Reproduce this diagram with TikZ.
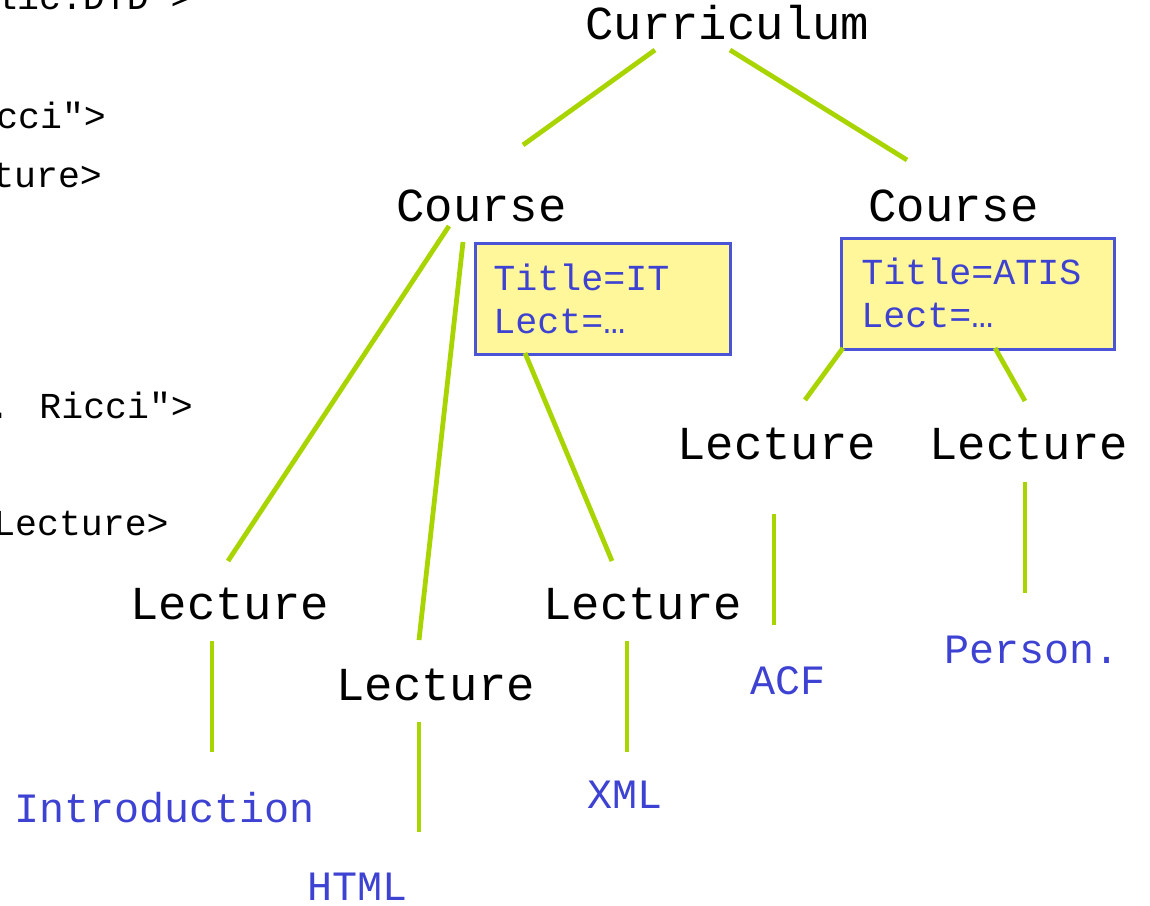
\documentclass[tikz,border=0pt]{standalone}
\usepackage{fontspec}
\setmainfont{Liberation Mono}[Ligatures=TeXOff]
\begin{document}
\begin{tikzpicture}[x=0.75pt,y=-0.75pt,
  tag/.style={inner sep=0pt,anchor=base west,font=\fontsize{35.5}{40}\selectfont,text=black},
  leaf/.style={inner sep=0pt,anchor=base west,font=\fontsize{31.3}{36}\selectfont,text=leafblue},
  src/.style={inner sep=0pt,anchor=base west,font=\fontsize{27.4}{32}\selectfont,text=black},
  attrbox/.style={draw=boxblue,line width=1.9pt,fill=boxyellow,inner sep=0pt,anchor=north west},
  attr/.style={inner sep=0pt,anchor=base west,font=\fontsize{27.5}{32}\selectfont,text=leafblue},
  edge/.style={draw=treegreen,line width=3.6pt}]
\definecolor{treegreen}{RGB}{168,212,0}
\definecolor{leafblue}{RGB}{62,66,210}
\definecolor{boxblue}{RGB}{74,84,214}
\definecolor{boxyellow}{RGB}{255,247,153}
\useasboundingbox (0,0) rectangle (1150,906);
\clip (0,0) rectangle (1150,906);

% fragments of the XML source on the left (one monospace cell = 21.92px)
\node[src] (s1) at (-5,10) {lic.DTD">};
\node[src] (s2) at (-4,128) {cci">};
\node[src] (s3) at (-8,187) {ture>};
\node[src] (s4) at (-12,418) {. Ricci">};
\node[src] (s5) at (-7,535) {Lecture>};

% tree nodes
\node[tag] (cur) at (585,40) {Curriculum};
\node[tag] (crsL) at (396,221) {Course};
\node[tag] (crsR) at (868,221) {Course};
\node[tag] (lec1) at (130,619) {Lecture};
\node[tag] (lec2) at (336,700) {Lecture};
\node[tag] (lec3) at (543,619) {Lecture};
\node[tag] (lec4) at (677,459) {Lecture};
\node[tag] (lec5) at (929,459) {Lecture};

% attribute boxes
\node[attrbox,minimum width=255*0.75pt,minimum height=111*0.75pt] (boxIT) at (474,242) {};
\node[attr] (t1) at (493,290) {Title=IT};
\node[attr] (t2) at (493,333) {Lect=…};
\node[attrbox,minimum width=273*0.75pt,minimum height=111*0.75pt] (boxAT) at (840,237) {};
\node[attr] (t3) at (861,284) {Title=ATIS};
\node[attr] (t4) at (861,327) {Lect=…};

% leaves
\node[leaf] (intro) at (14,822) {Introduction};
\node[leaf] (html) at (307,900) {HTML};
\node[leaf] (xml) at (587,808) {XML};
\node[leaf] (acf) at (750,694) {ACF};
\node[leaf] (pers) at (944,663) {Person.};

% connector end points
\coordinate (a1) at (655,50);  \coordinate (b1) at (523,145);
\coordinate (a2) at (730,50);  \coordinate (b2) at (907,160);
\coordinate (a3) at (449,226); \coordinate (b3) at (228,561);
\coordinate (a4) at (463,242); \coordinate (b4) at (419,640);
\coordinate (a5) at (525,353); \coordinate (b5) at (612,561);
\coordinate (a6) at (843,348); \coordinate (b6) at (805,400);
\coordinate (a7) at (995,348); \coordinate (b7) at (1025,401);
\coordinate (a8) at (212,641); \coordinate (b8) at (212,752);
\coordinate (a9) at (419,722); \coordinate (b9) at (419,832);
\coordinate (a10) at (627,641); \coordinate (b10) at (627,752);
\coordinate (a11) at (774,514); \coordinate (b11) at (774,625);
\coordinate (a12) at (1025,482); \coordinate (b12) at (1025,593);

\foreach \i in {1,...,12} { \draw[edge] (a\i) -- (b\i); }
\end{tikzpicture}
\end{document}
